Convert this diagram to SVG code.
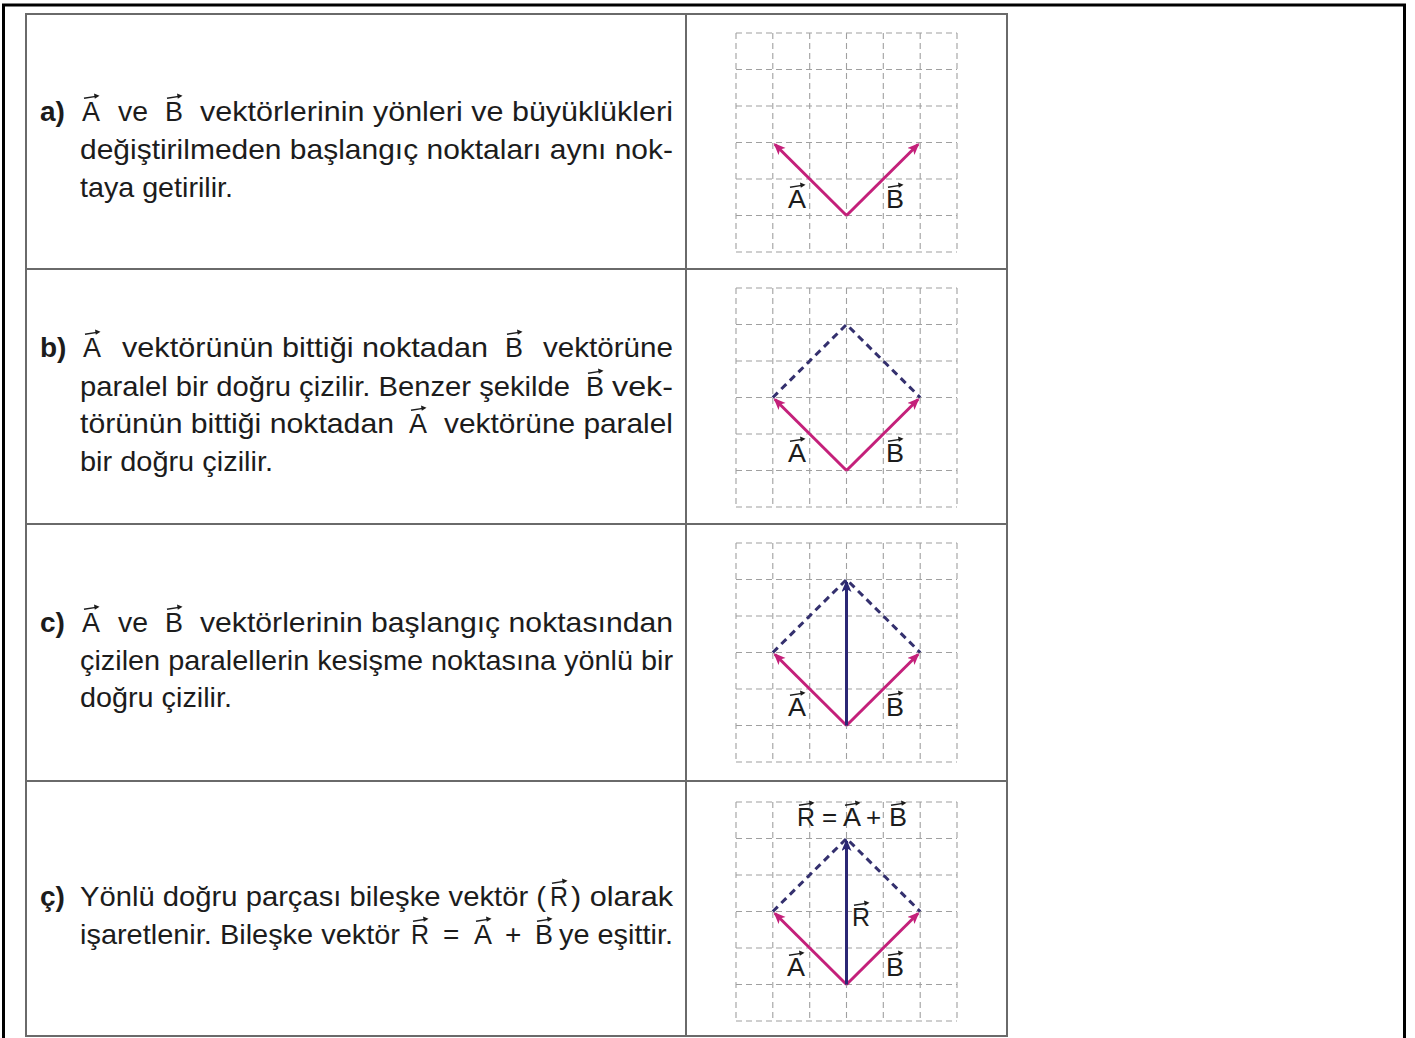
<svg xmlns="http://www.w3.org/2000/svg" xmlns:xlink="http://www.w3.org/1999/xlink" width="1415" height="1038" viewBox="0 0 1415 1038">
<style>
.t{font-family:"Liberation Sans",Arial,sans-serif;font-size:28px;fill:#1c1c1c}
.b{font-weight:bold}
.lbl{font-family:"Liberation Sans",Arial,sans-serif;font-size:26px;fill:#1c1c1c}
.grid{stroke:#a0a0a0;stroke-width:1.1;stroke-dasharray:6 4;fill:none}
.pink{stroke:#c4207a;stroke-width:3;fill:none;marker-end:url(#mp)}
.navy{stroke:#2b2774;stroke-width:3;fill:none;marker-end:url(#mn)}
.dash{stroke:#34306e;stroke-width:3;fill:none;stroke-dasharray:7 5}
.tbl{stroke:#6a6a6a;stroke-width:2;fill:none}
</style>
<defs>
<marker id="mp" markerUnits="userSpaceOnUse" markerWidth="14" markerHeight="12" refX="10" refY="5" orient="auto"><path d="M0,0 L12,5 L0,10 L3,5 z" fill="#c4207a"/></marker>
<marker id="mn" markerUnits="userSpaceOnUse" markerWidth="14" markerHeight="12" refX="10" refY="5" orient="auto"><path d="M0,0 L12,5 L0,10 L3,5 z" fill="#2b2774"/></marker>
<g id="v"><path d="M0 2.2L12 0.4" stroke="#1c1c1c" stroke-width="1.4" fill="none"/><path d="M10 -2.4L15.5 -0.2L10.8 2.8z" fill="#1c1c1c"/></g>
<path id="grid" class="grid" d="M736 0V219 M772.8 0V219 M809.7 0V219 M846.5 0V219 M883.3 0V219 M920.2 0V219 M957 0V219 M736 0H957 M736 36.5H957 M736 73H957 M736 109.5H957 M736 146H957 M736 182.5H957 M736 219H957"/>
</defs>
<rect width="1415" height="1038" fill="#fff"/>
<rect x="3.5" y="5" width="1401" height="1045" fill="none" stroke="#000" stroke-width="3"/>
<g id="table">
<rect class="tbl" x="26" y="14" width="981" height="1022"/>
<path class="tbl" d="M686 14V1036 M26 269H1007 M26 524H1007 M26 781H1007"/>
</g>

<g id="row-a">
<text class="t b" x="40" y="121">a)</text>
<text class="t" x="82" y="121" textLength="18" lengthAdjust="spacingAndGlyphs">A</text>
<text class="t" x="118" y="121" textLength="30" lengthAdjust="spacingAndGlyphs">ve</text>
<text class="t" x="165" y="121" textLength="18" lengthAdjust="spacingAndGlyphs">B</text>
<text class="t" x="200" y="121" textLength="473" lengthAdjust="spacingAndGlyphs">vektörlerinin yönleri ve büyüklükleri</text>
<text class="t" x="80" y="159" textLength="593" lengthAdjust="spacingAndGlyphs">değiştirilmeden başlangıç noktaları aynı nok-</text>
<text class="t" x="80" y="197" textLength="153" lengthAdjust="spacingAndGlyphs">taya getirilir.</text>
<use xlink:href="#v" x="84" y="96"/>
<use xlink:href="#v" x="167" y="96"/>
<g transform="translate(0,33)">
<use xlink:href="#grid"/>
<path class="pink" d="M846.5 182.5L775 111.5"/>
<path class="pink" d="M846.5 182.5L918 111.5"/>
<text class="lbl" x="788" y="175" textLength="18" lengthAdjust="spacingAndGlyphs">A</text>
<text class="lbl" x="886" y="175" textLength="18" lengthAdjust="spacingAndGlyphs">B</text>
<use xlink:href="#v" x="790" y="152"/>
<use xlink:href="#v" x="888" y="152"/>
</g>
</g>

<g id="row-b">
<text class="t b" x="40" y="357">b)</text>
<text class="t" x="83" y="357" textLength="18" lengthAdjust="spacingAndGlyphs">A</text>
<text class="t" x="122" y="357" textLength="366" lengthAdjust="spacingAndGlyphs">vektörünün bittiği noktadan</text>
<text class="t" x="505" y="357" textLength="18" lengthAdjust="spacingAndGlyphs">B</text>
<text class="t" x="543" y="357" textLength="130" lengthAdjust="spacingAndGlyphs">vektörüne</text>
<text class="t" x="80" y="396" textLength="490" lengthAdjust="spacingAndGlyphs">paralel bir doğru çizilir. Benzer şekilde</text>
<text class="t" x="586" y="396" textLength="18" lengthAdjust="spacingAndGlyphs">B</text>
<text class="t" x="612" y="396" textLength="61" lengthAdjust="spacingAndGlyphs">vek-</text>
<text class="t" x="80" y="433" textLength="314" lengthAdjust="spacingAndGlyphs">törünün bittiği noktadan</text>
<text class="t" x="409" y="433" textLength="18" lengthAdjust="spacingAndGlyphs">A</text>
<text class="t" x="444" y="433" textLength="229" lengthAdjust="spacingAndGlyphs">vektörüne paralel</text>
<text class="t" x="80" y="471" textLength="193" lengthAdjust="spacingAndGlyphs">bir doğru çizilir.</text>
<use xlink:href="#v" x="85" y="332"/>
<use xlink:href="#v" x="507" y="332"/>
<use xlink:href="#v" x="588" y="371"/>
<use xlink:href="#v" x="411" y="408"/>
<g transform="translate(0,288)">
<use xlink:href="#grid"/>
<path class="dash" d="M772.8 109.5L846.5 36.5L920.2 109.5"/>
<path class="pink" d="M846.5 182.5L775 111.5"/>
<path class="pink" d="M846.5 182.5L918 111.5"/>
<text class="lbl" x="788" y="174" textLength="18" lengthAdjust="spacingAndGlyphs">A</text>
<text class="lbl" x="886" y="174" textLength="18" lengthAdjust="spacingAndGlyphs">B</text>
<use xlink:href="#v" x="790" y="151"/>
<use xlink:href="#v" x="888" y="151"/>
</g>
</g>

<g id="row-c">
<text class="t b" x="40" y="632">c)</text>
<text class="t" x="82" y="632" textLength="18" lengthAdjust="spacingAndGlyphs">A</text>
<text class="t" x="118" y="632" textLength="30" lengthAdjust="spacingAndGlyphs">ve</text>
<text class="t" x="165" y="632" textLength="18" lengthAdjust="spacingAndGlyphs">B</text>
<text class="t" x="200" y="632" textLength="473" lengthAdjust="spacingAndGlyphs">vektörlerinin başlangıç noktasından</text>
<text class="t" x="80" y="670" textLength="593" lengthAdjust="spacingAndGlyphs">çizilen paralellerin kesişme noktasına yönlü bir</text>
<text class="t" x="80" y="707" textLength="152" lengthAdjust="spacingAndGlyphs">doğru çizilir.</text>
<use xlink:href="#v" x="84" y="607"/>
<use xlink:href="#v" x="167" y="607"/>
<g transform="translate(0,543)">
<use xlink:href="#grid"/>
<path class="dash" d="M772.8 109.5L846.5 36.5L920.2 109.5"/>
<path class="pink" d="M846.5 182.5L775 111.5"/>
<path class="pink" d="M846.5 182.5L918 111.5"/>
<path class="navy" d="M846.5 182.5L846.5 39"/>
<text class="lbl" x="788" y="173" textLength="18" lengthAdjust="spacingAndGlyphs">A</text>
<text class="lbl" x="886" y="173" textLength="18" lengthAdjust="spacingAndGlyphs">B</text>
<use xlink:href="#v" x="790" y="150"/>
<use xlink:href="#v" x="888" y="150"/>
</g>
</g>

<g id="row-cc">
<text class="t b" x="40" y="906">ç)</text>
<text class="t" x="80" y="906" textLength="466" lengthAdjust="spacingAndGlyphs">Yönlü doğru parçası bileşke vektör (</text>
<text class="t" x="550" y="906" textLength="18" lengthAdjust="spacingAndGlyphs">R</text>
<text class="t" x="571" y="906" textLength="102" lengthAdjust="spacingAndGlyphs">) olarak</text>
<text class="t" x="80" y="944" textLength="320" lengthAdjust="spacingAndGlyphs">işaretlenir. Bileşke vektör</text>
<text class="t" x="411" y="944" textLength="18" lengthAdjust="spacingAndGlyphs">R</text>
<text class="t" x="443" y="944">=</text>
<text class="t" x="474" y="944" textLength="18" lengthAdjust="spacingAndGlyphs">A</text>
<text class="t" x="505" y="944">+</text>
<text class="t" x="535" y="944" textLength="18" lengthAdjust="spacingAndGlyphs">B</text>
<text class="t" x="559" y="944" textLength="114" lengthAdjust="spacingAndGlyphs">ye eşittir.</text>
<use xlink:href="#v" x="552" y="881"/>
<use xlink:href="#v" x="413" y="919"/>
<use xlink:href="#v" x="476" y="919"/>
<use xlink:href="#v" x="537" y="919"/>
<g transform="translate(0,802)">
<use xlink:href="#grid"/>
<path class="dash" d="M772.8 109.5L846.5 36.5L920.2 109.5"/>
<path class="pink" d="M846.5 182.5L775 111.5"/>
<path class="pink" d="M846.5 182.5L918 111.5"/>
<path class="navy" d="M846.5 182.5L846.5 39"/>
<text class="lbl" x="787" y="174" textLength="18" lengthAdjust="spacingAndGlyphs">A</text>
<text class="lbl" x="886" y="174" textLength="18" lengthAdjust="spacingAndGlyphs">B</text>
<text class="lbl" x="852" y="124" textLength="18" lengthAdjust="spacingAndGlyphs">R</text>
<text class="lbl" x="797" y="24" textLength="18" lengthAdjust="spacingAndGlyphs">R</text>
<text class="lbl" x="822" y="24">=</text>
<text class="lbl" x="843" y="24" textLength="18" lengthAdjust="spacingAndGlyphs">A</text>
<text class="lbl" x="866" y="24">+</text>
<text class="lbl" x="889" y="24" textLength="18" lengthAdjust="spacingAndGlyphs">B</text>
<use xlink:href="#v" x="789" y="151"/>
<use xlink:href="#v" x="888" y="151"/>
<use xlink:href="#v" x="854" y="101"/>
<use xlink:href="#v" x="799" y="1"/>
<use xlink:href="#v" x="845" y="1"/>
<use xlink:href="#v" x="891" y="1"/>
</g>
</g>
</svg>
